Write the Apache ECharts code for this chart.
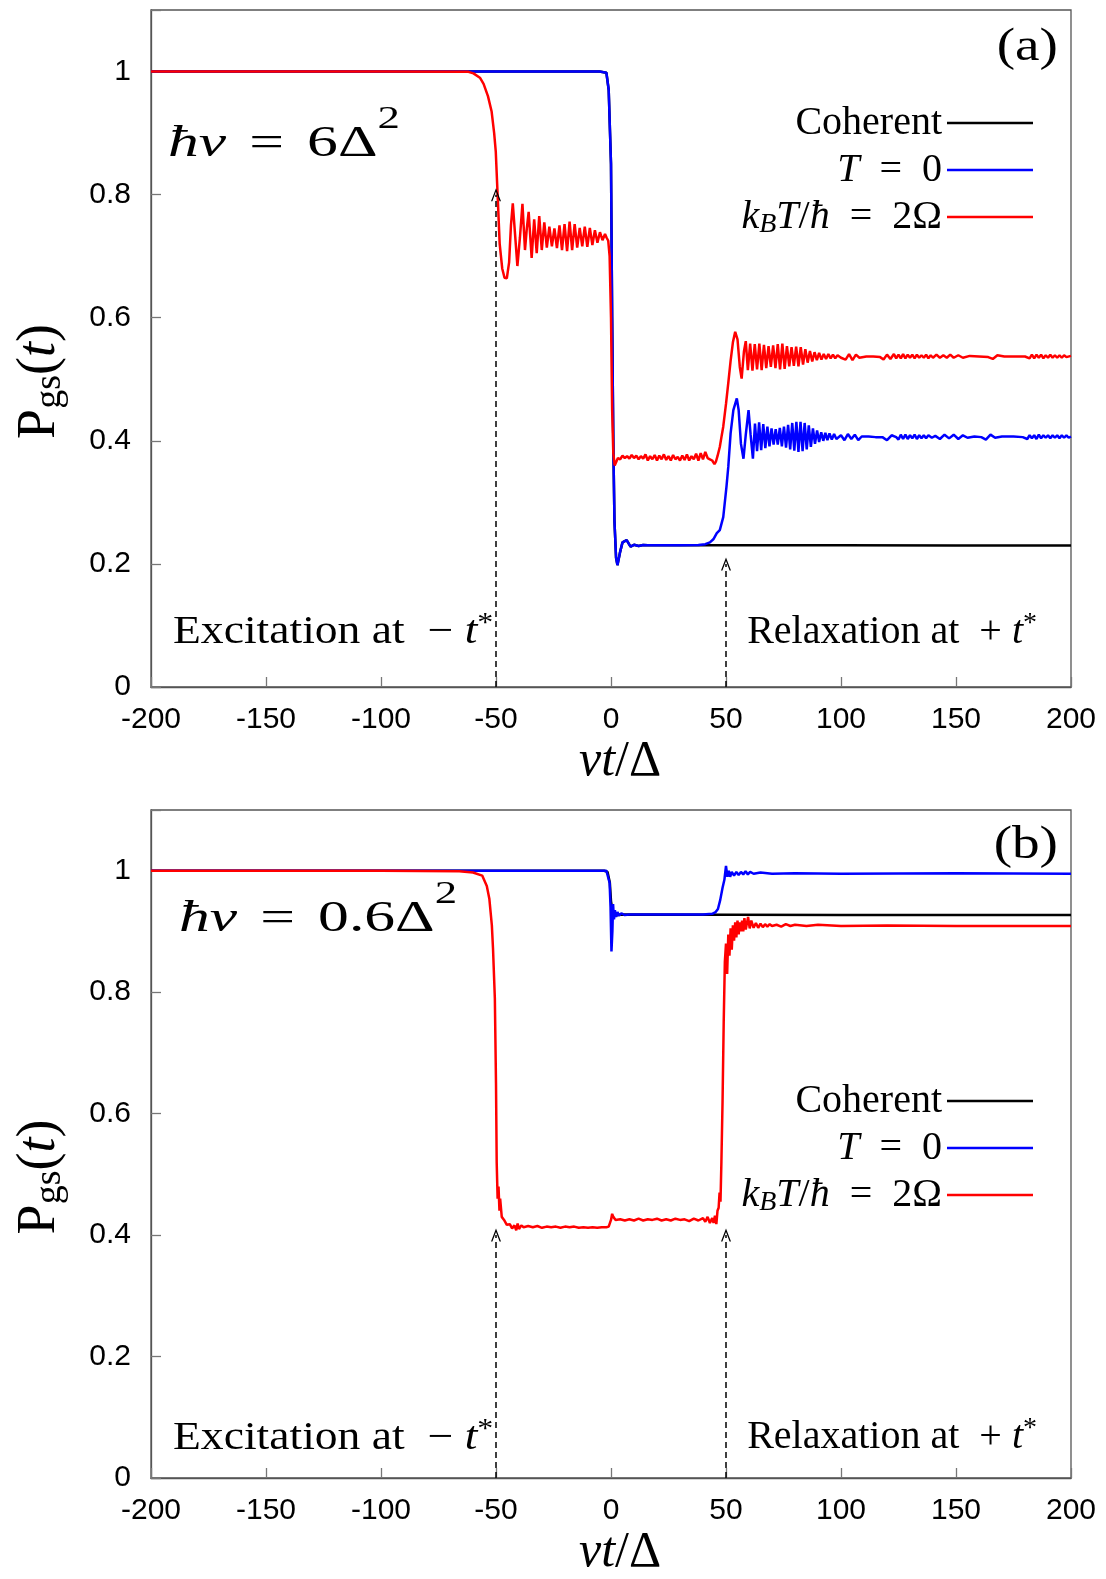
<!DOCTYPE html>
<html><head><meta charset="utf-8">
<script src="https://cdn.jsdelivr.net/npm/echarts@6/dist/echarts.min.js"></script>
<style>html,body{margin:0;padding:0;background:#fff}#c{width:1106px;height:1579px}</style>
</head><body><div id="c"></div>
<script>
// ---------- data ----------
const seriesNames = ['Coherent', 'T = 0', 'kBT/ħ = 2Ω'];

// panel (a): ħv = 6Δ²
const aCoherent = [[-200,1],[-100,1],[-5,1],[-2,0.998],[-1,0.97],[0,0.85],[0.5,0.6],[1,0.4],[1.5,0.27],[2.2,0.21],[2.8,0.198],[4,0.22],[5,0.235],[6.8,0.2385],[8.5,0.228],[10,0.231],[12,0.229],[14,0.2308],[16,0.2302],[40,0.2304],[100,0.2302],[150,0.23],[200,0.2298]];
const aZero = [[-200,1],[-100,1],[-5,1],[-2,0.998],[-1,0.97],[0,0.85],[0.5,0.6],[1,0.4],[1.5,0.27],[2.2,0.21],[2.8,0.198],[4,0.22],[5,0.235],[6.8,0.2385],[8.5,0.228],[10,0.231],[12,0.229],[14,0.2308],[16,0.2302],[30,0.2304],[38,0.2306],[41,0.232],[43,0.235],[44.5,0.24],[46,0.25],[47.3,0.255],[48.8,0.276],[50.2,0.325],[51,0.358],[52,0.412],[53.2,0.45],[54.7,0.469],[55.5,0.45],[56.5,0.395],[57.6,0.371],[58.6,0.41],[59.8,0.45],[60.7,0.41],[61.7,0.371],[62.6,0.428],[63.5,0.383],[64.4,0.43],[65.3,0.385],[66.2,0.427],[67.1,0.388],[68,0.423],[68.9,0.391],[69.8,0.42],[70.7,0.394],[71.6,0.419],[72.5,0.394],[73.4,0.421],[74.3,0.391],[75.2,0.423],[76.1,0.389],[77,0.426],[77.9,0.386],[78.8,0.429],[79.7,0.384],[80.6,0.431],[81.5,0.382],[82.4,0.431],[83.3,0.383],[84.2,0.429],[85.1,0.386],[86,0.425],[86.9,0.39],[87.8,0.42],[88.7,0.395],[89.6,0.417],[90.5,0.398],[91.4,0.414],[92.3,0.4],[93.2,0.413],[94.1,0.401],[95,0.412],[96,0.402],[97,0.411],[98,0.403],[100,0.409],[101.5,0.401],[103,0.411],[104.5,0.403],[106,0.41],[107.5,0.401],[109,0.407],[112,0.407],[115,0.406],[118,0.406],[120,0.401],[122,0.409],[124,0.406],[125,0.402],[126,0.41],[127,0.403],[128,0.41],[129,0.403],[130,0.409],[131,0.404],[132,0.41],[133,0.403],[134,0.409],[135,0.404],[136,0.409],[137,0.404],[138,0.409],[139.5,0.405],[141,0.408],[143,0.403],[145,0.41],[147,0.404],[149,0.41],[151,0.403],[153,0.409],[155,0.405],[158,0.407],[161,0.406],[163,0.402],[165,0.41],[167,0.405],[170,0.407],[175,0.407],[179,0.406],[181,0.403],[182,0.409],[183,0.404],[184,0.409],[185,0.403],[186,0.41],[187,0.404],[188,0.409],[189,0.405],[190,0.409],[191,0.404],[192,0.409],[193,0.405],[194,0.409],[195,0.404],[196,0.409],[197,0.405],[198,0.409],[199,0.405],[200,0.407]];
const aThermal = [[-200,1],[-100,1],[-62,0.9995],[-59.8,0.997],[-57,0.99],[-55.4,0.98],[-53.5,0.96],[-51.9,0.935],[-50.8,0.9],[-50.1,0.87],[-49.3,0.8],[-48.4,0.72],[-47.3,0.68],[-46.3,0.665],[-45.3,0.664],[-44.3,0.69],[-43.5,0.75],[-42.7,0.786],[-41.8,0.74],[-40.7,0.684],[-39.6,0.73],[-38.5,0.785],[-37.4,0.71],[-36.6,0.745],[-35.8,0.772],[-34.5,0.697],[-33.4,0.76],[-32.3,0.705],[-31.2,0.765],[-30.1,0.71],[-29,0.755],[-27.9,0.714],[-26.8,0.748],[-25.7,0.716],[-24.6,0.745],[-23.5,0.713],[-22.4,0.75],[-21.3,0.71],[-20.2,0.752],[-19.1,0.708],[-18,0.756],[-16.9,0.71],[-15.8,0.752],[-14.7,0.714],[-13.6,0.746],[-12.5,0.716],[-11.4,0.748],[-10.3,0.715],[-9.2,0.746],[-8.1,0.718],[-7,0.742],[-5.9,0.722],[-4.8,0.739],[-3.7,0.726],[-2.6,0.736],[-1.9,0.73],[-1.2,0.725],[-0.6,0.7],[0,0.6],[0.5,0.45],[1,0.38],[1.6,0.36],[2.3,0.362],[3,0.372],[4,0.37],[5,0.376],[6,0.372],[7,0.375],[8,0.371],[9,0.377],[10,0.372],[11,0.376],[12,0.37],[13,0.375],[14,0.371],[15,0.378],[16,0.368],[17,0.375],[18,0.37],[19,0.377],[20,0.368],[21,0.376],[22,0.37],[23,0.378],[24,0.369],[25,0.375],[26,0.368],[27,0.377],[28,0.37],[29,0.374],[30,0.368],[31,0.376],[32,0.369],[33,0.378],[34,0.368],[35,0.375],[36,0.37],[37,0.379],[38,0.368],[39,0.38],[40,0.37],[41,0.382],[42,0.372],[43,0.37],[44,0.368],[45,0.362],[45.6,0.366],[46.3,0.375],[47.3,0.39],[48.2,0.41],[48.8,0.423],[50,0.46],[51,0.494],[52,0.53],[53,0.56],[54,0.577],[55,0.565],[56,0.52],[56.8,0.501],[57.8,0.545],[58.6,0.562],[59.5,0.515],[60.5,0.558],[61.5,0.514],[62.5,0.557],[63.5,0.516],[64.5,0.558],[65.5,0.515],[66.5,0.556],[67.5,0.518],[68.5,0.554],[69.5,0.52],[70.5,0.555],[71.5,0.518],[72.5,0.557],[73.5,0.516],[74.5,0.558],[75.5,0.517],[76.5,0.554],[77.5,0.521],[78.5,0.552],[79.5,0.522],[80.5,0.553],[81.5,0.521],[82.5,0.552],[83.5,0.524],[84.5,0.549],[85.5,0.527],[86.5,0.546],[87.5,0.529],[88.5,0.544],[89.5,0.531],[90.5,0.543],[91.5,0.532],[92.5,0.541],[93.5,0.533],[94.5,0.541],[95.5,0.534],[96.5,0.54],[97.5,0.534],[98.5,0.539],[100,0.535],[102,0.532],[103.5,0.541],[105,0.531],[106.5,0.54],[108,0.535],[111,0.537],[114,0.537],[117,0.536],[118.5,0.532],[120,0.54],[121.5,0.533],[123,0.541],[124,0.534],[125,0.54],[126,0.534],[127,0.541],[128,0.534],[129,0.54],[130,0.535],[131,0.54],[132,0.534],[133,0.54],[134,0.535],[135,0.539],[136,0.535],[137,0.54],[138,0.534],[139,0.539],[140,0.535],[141.5,0.54],[143,0.535],[144.5,0.539],[146,0.535],[147.5,0.54],[149,0.535],[151,0.539],[153,0.535],[156,0.538],[160,0.537],[164,0.536],[166,0.533],[168,0.539],[171,0.537],[175,0.537],[180,0.537],[182,0.534],[183,0.54],[184,0.534],[185,0.54],[186,0.535],[187,0.54],[188,0.534],[189,0.539],[190,0.535],[191,0.54],[192,0.535],[193,0.539],[194,0.535],[195,0.539],[196,0.535],[197,0.539],[198,0.536],[200,0.538]];

// panel (b): ħv = 0.6Δ²
const bCoherent = [[-200,1],[-100,1],[-3,1],[-1.5,0.998],[-0.5,0.98],[0,0.95],[0.8,0.93],[2,0.926],[4,0.928],[100,0.927],[200,0.927]];
const bZero = [[-200,1],[-100,1],[-2,1],[-1.2,0.998],[-0.6,0.98],[-0.2,0.94],[0.2,0.867],[0.6,0.9],[0.9,0.945],[1.3,0.92],[1.7,0.935],[2.2,0.924],[2.8,0.932],[3.5,0.926],[4.5,0.93],[6,0.927],[8,0.928],[20,0.928],[40,0.928],[44,0.929],[45.5,0.932],[46.5,0.937],[47.5,0.952],[48.5,0.972],[49.3,0.985],[50,1.008],[50.6,0.99],[51.2,1.0],[51.8,0.99],[52.5,0.998],[53.5,0.992],[54.5,0.998],[55.5,0.993],[56.5,0.998],[57.5,0.994],[58.5,0.999],[59.5,0.994],[60.5,0.998],[62,0.995],[65,0.997],[70,0.995],[80,0.996],[100,0.995],[150,0.996],[200,0.995]];
const bThermal = [[-200,1],[-100,1],[-66,0.999],[-60,0.997],[-56,0.992],[-54,0.975],[-52.9,0.954],[-51.8,0.91],[-51.3,0.872],[-50.5,0.79],[-50,0.65],[-49.7,0.52],[-49.3,0.46],[-48.9,0.48],[-48.5,0.44],[-48.2,0.46],[-47.5,0.43],[-46.5,0.425],[-45.3,0.417],[-44,0.418],[-43,0.411],[-42,0.416],[-41.2,0.408],[-40.6,0.419],[-40,0.41],[-39,0.416],[-38,0.413],[-36,0.415],[-34,0.413],[-32,0.415],[-30,0.412],[-28,0.414],[-26,0.413],[-24,0.414],[-22,0.412],[-20,0.414],[-18,0.413],[-16,0.414],[-14,0.412],[-12,0.413],[-10,0.412],[-8,0.413],[-6,0.412],[-4,0.413],[-2,0.413],[-1,0.414],[0,0.425],[0.5,0.435],[1,0.43],[2,0.425],[4,0.426],[6,0.424],[8,0.426],[10,0.424],[12,0.427],[14,0.424],[16,0.426],[18,0.425],[20,0.427],[22,0.424],[24,0.426],[26,0.424],[28,0.427],[30,0.425],[32,0.426],[34,0.423],[36,0.427],[38,0.424],[40,0.428],[41,0.422],[42,0.43],[43,0.42],[44,0.428],[44.6,0.42],[45.2,0.432],[45.8,0.418],[46.3,0.44],[46.8,0.445],[47.2,0.47],[47.6,0.455],[48,0.52],[48.5,0.62],[49,0.75],[49.5,0.85],[50,0.88],[50.5,0.83],[51,0.895],[51.5,0.86],[52,0.905],[52.5,0.87],[53,0.91],[53.5,0.885],[54,0.915],[54.5,0.89],[55,0.918],[55.5,0.895],[56,0.915],[56.5,0.9],[57,0.918],[57.5,0.9],[58,0.922],[58.6,0.903],[59.6,0.924],[60.3,0.905],[61,0.918],[62,0.906],[63,0.914],[64,0.906],[65,0.913],[66,0.907],[67,0.912],[68,0.908],[69,0.912],[70,0.909],[72,0.911],[74,0.908],[76,0.912],[78,0.909],[80,0.911],[85,0.909],[90,0.911],[100,0.909],[120,0.91],[150,0.909],[200,0.909]];

// dashed arrows (x position, arrow-tip value)
const arrowsA = [[-50, 0.8], [50, 0.2]];
const arrowsB = [[-50, 0.4], [50, 0.4]];

// ---------- styling ----------
const SERIF = 'Liberation Serif';
const SANS = 'Liberation Sans';
const colors = ['#000000', '#0000ff', '#ff0000'];

function richSet(fs, mainLH) {
  const lh = mainLH || fs + 4;
  return {
    r: {fontFamily: SERIF, fontSize: fs, lineHeight: lh, color: '#000'},
    i: {fontFamily: SERIF, fontSize: fs, fontStyle: 'italic', lineHeight: lh, color: '#000'},
    sp: {fontFamily: SERIF, fontSize: Math.round(fs * 0.5), lineHeight: lh, color: '#000'},
    sub: {fontFamily: SERIF, fontSize: Math.round(fs * 0.7), lineHeight: Math.round(fs * 0.4), verticalAlign: 'bottom', color: '#000'},
    isub: {fontFamily: SERIF, fontSize: Math.round(fs * 0.7), fontStyle: 'italic', lineHeight: Math.round(fs * 0.4), verticalAlign: 'bottom', color: '#000'},
    sup: {fontFamily: SERIF, fontSize: Math.round(fs * 0.7), lineHeight: Math.round(fs * 0.5), verticalAlign: 'top', color: '#000'}
  };
}

const legendRich = {
  'Coherent': '{r|Coherent}',
  'T = 0': '{i|T}{r|\u2002=\u20020}',
  'kBT/ħ = 2Ω': '{i|k}{isub|B}{i|T}{r|/}{i|ħ}{r|\u2002=\u20022Ω}'
};

const chevron = 'path://M0,12 L5,0 L10,12 L8.6,12 L5,3.2 L1.4,12 Z';

function arrowLines(list) {
  return list.map(p => [{coord: [p[0], 0]}, {coord: [p[0], p[1]]}]);
}

const grids = [
  {left: 151, top: 10, width: 920, height: 677},
  {left: 151, top: 810, width: 920, height: 677}
];

function xAxisFor(idx) {
  return {
    type: 'value', gridIndex: idx, min: -200, max: 200, interval: 50,
    axisLine: {show: true, onZero: false, lineStyle: {color: '#555', width: 1.3}},
    axisTick: {show: true, inside: true, length: 10, lineStyle: {color: '#777', width: 1.3}},
    axisLabel: {margin: 18, fontFamily: SANS, fontSize: 30, color: '#000'},
    splitLine: {show: false},
    name: '{i|vt}{r|/Δ}', nameLocation: 'middle', nameGap: 48,
    nameTextStyle: {rich: richSet(50), padding: [0, 0, 0, 18]}
  };
}
function yAxisFor(idx) {
  return {
    type: 'value', gridIndex: idx, min: 0, max: 1.1, interval: 0.2,
    axisLine: {show: true, onZero: false, lineStyle: {color: '#555', width: 1.3}},
    axisTick: {show: true, inside: true, length: 10, lineStyle: {color: '#777', width: 1.3}},
    axisLabel: {margin: 20, fontFamily: SANS, fontSize: 30, color: '#000',
      formatter: v => (v > 1.05 ? '' : String(Math.round(v * 10) / 10))},
    splitLine: {show: false},
    name: '{r|P}{sub|gs}{r|(}{i|t}{r|)}', nameLocation: 'middle', nameGap: 82, nameRotate: 90,
    nameTextStyle: {rich: richSet(54), padding: [0, 66, 0, 0]}
  };
}

function lineSeries(name, data, colorIdx, gridIdx, marks) {
  const s = {
    name: name, type: 'line', data: data, xAxisIndex: gridIdx, yAxisIndex: gridIdx,
    showSymbol: false, symbol: 'none', smooth: false, animation: false, silent: true,
    color: colors[colorIdx],
    lineStyle: {color: colors[colorIdx], width: 2.5},
    itemStyle: {color: colors[colorIdx]},
    z: 2 + colorIdx
  };
  if (marks) {
    s.markLine = {
      silent: true, animation: false,
      symbol: ['none', chevron], symbolSize: [10, 13],
      label: {show: false},
      lineStyle: {color: '#000', type: [6, 4], width: 1.5},
      emphasis: {disabled: true},
      data: arrowLines(marks)
    };
  }
  return s;
}

function legendFor(top) {
  return {
    orient: 'vertical', align: 'right', right: 73, top: top, padding: 0,
    itemWidth: 86, itemHeight: 2.5, itemGap: 7, icon: 'rect',
    selectedMode: false,
    data: seriesNames,
    formatter: n => legendRich[n],
    textStyle: {rich: richSet(40)}
  };
}

const eqRich = richSet(44, 80);
eqRich.sup.fontSize = 32;
const txtRich = richSet(40);
const panelRich = richSet(46);

const option = {
  backgroundColor: '#fff',
  animation: false,
  grid: grids.map(g => Object.assign({show: true, borderColor: '#555', borderWidth: 1.3, backgroundColor: 'transparent'}, g)),
  xAxis: [xAxisFor(0), xAxisFor(1)],
  yAxis: [yAxisFor(0), yAxisFor(1)],
  legend: [legendFor(103), legendFor(1081)],
  series: [
    lineSeries(seriesNames[0], aCoherent, 0, 0, arrowsA),
    lineSeries(seriesNames[1], aZero, 1, 0),
    lineSeries(seriesNames[2], aThermal, 2, 0),
    lineSeries(seriesNames[0], bCoherent, 0, 1, arrowsB),
    lineSeries(seriesNames[1], bZero, 1, 1),
    lineSeries(seriesNames[2], bThermal, 2, 1)
  ],
  graphic: [
    {type: 'text', x: 168, y: 144, scaleX: 1.4, z: 100, style: {text: '{i|ħv}{r| }{sp| }{r|=}{r| }{sp| }{r|6Δ}{sup|2}', rich: eqRich, align: 'left', verticalAlign: 'middle'}},
    {type: 'text', x: 179, y: 919, scaleX: 1.4, z: 100, style: {text: '{i|ħv}{r| }{sp| }{r|=}{r| }{sp| }{r|0.6Δ}{sup|2}', rich: eqRich, align: 'left', verticalAlign: 'middle'}},
    {type: 'text', x: 1058, y: 48, scaleX: 1.2, z: 100, style: {text: '{r|(a)}', rich: panelRich, align: 'right', verticalAlign: 'middle'}},
    {type: 'text', x: 1058, y: 846, scaleX: 1.2, z: 100, style: {text: '{r|(b)}', rich: panelRich, align: 'right', verticalAlign: 'middle'}},
    {type: 'text', x: 173, y: 632, scaleX: 1.14, z: 100, style: {text: '{r|Excitation at  − }{i|t}{sup|*}', rich: txtRich, align: 'left', verticalAlign: 'middle'}},
    {type: 'text', x: 1037, y: 632, scaleX: 1.0, z: 100, style: {text: '{r|Relaxation at  + }{i|t}{sup|*}', rich: txtRich, align: 'right', verticalAlign: 'middle'}},
    {type: 'text', x: 173, y: 1438, scaleX: 1.14, z: 100, style: {text: '{r|Excitation at  − }{i|t}{sup|*}', rich: txtRich, align: 'left', verticalAlign: 'middle'}},
    {type: 'text', x: 1037, y: 1437, scaleX: 1.0, z: 100, style: {text: '{r|Relaxation at  + }{i|t}{sup|*}', rich: txtRich, align: 'right', verticalAlign: 'middle'}}
  ]
};

const chart = echarts.init(document.getElementById('c'), null, {renderer: 'canvas'});
chart.setOption(option);
</script>
</body></html>
